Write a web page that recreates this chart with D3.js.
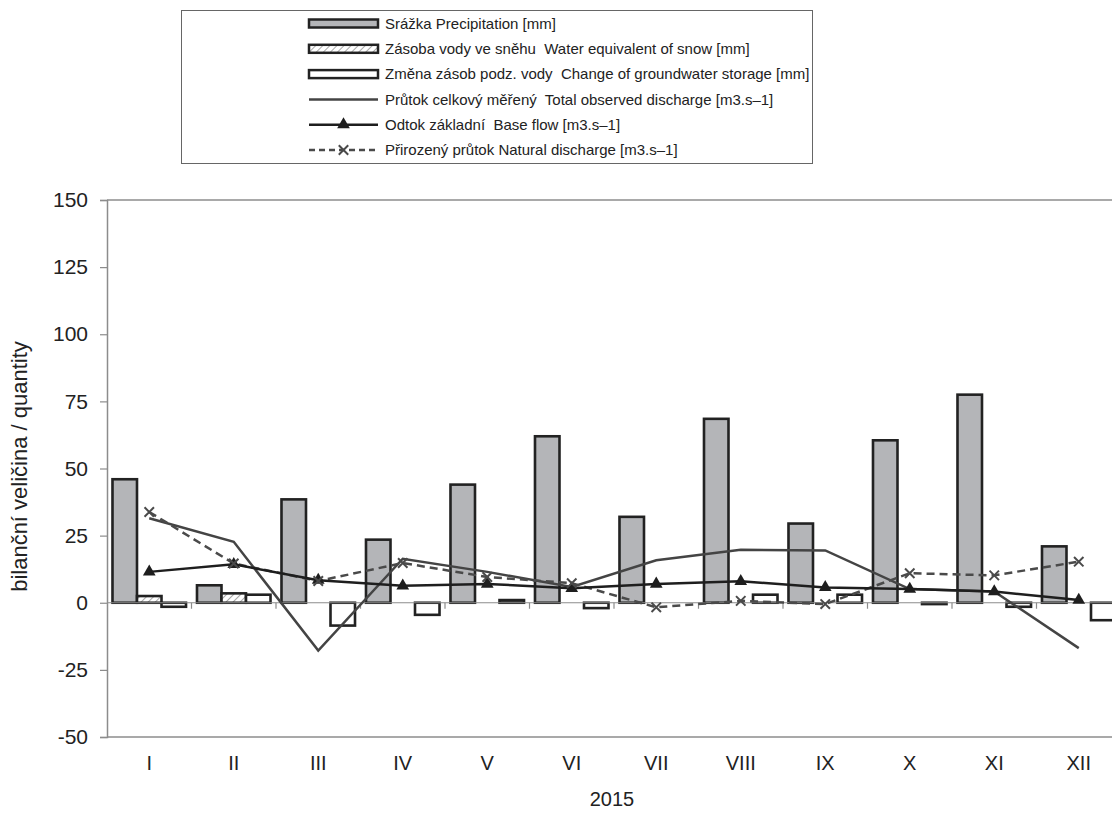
<!DOCTYPE html>
<html lang="cs">
<head>
<meta charset="UTF-8">
<title>Bilance 2015</title>
<script src="https://cdn.jsdelivr.net/npm/d3@7"></script>
<style>
  body { margin: 0; background: #fff; }
  svg { display: block; font-family: "Liberation Sans", Arial, sans-serif; }
  .lbl { white-space: pre; }
</style>
</head>
<body>
<div id="chart"></div>
<script>
// data
var months = ["I", "II", "III", "IV", "V", "VI", "VII", "VIII", "IX", "X", "XI", "XII"];
var precipitation = [46, 6.5, 38.5, 23.5, 44, 62, 32, 68.5, 29.5, 60.5, 77.5, 21];
var snowWater = [2.5, 3.5, 0, 0, 0, 0, 0, 0, 0, 0, 0, 0];
var groundwaterChange = [-1.5, 3, -8.5, -4.5, 1, -2, 0, 3, 3, -0.5, -1.5, -6.5];
var totalDischarge = [31.5, 22.7, -17.8, 16.4, 11.5, 5.9, 15.8, 19.7, 19.5, 5.1, 4.2, -16.9];
var baseFlow = [11.5, 14.3, 8.4, 6.3, 7, 5.4, 7, 8, 5.7, 5.1, 4.2, 1];
var naturalDischarge = [33.8, 14.6, 8.1, 14.8, 9.6, 7.3, -1.7, 0.7, -0.5, 11, 10.2, 15.3];
var yTicks = [-50, -25, 0, 25, 50, 75, 100, 125, 150];

var legendLabels = [
  "Srážka Precipitation [mm]",
  "Zásoba vody ve sněhu  Water equivalent of snow [mm]",
  "Změna zásob podz. vody  Change of groundwater storage [mm]",
  "Průtok celkový měřený  Total observed discharge [m3.s\u20131]",
  "Odtok základní  Base flow [m3.s\u20131]",
  "Přirozený průtok Natural discharge [m3.s\u20131]"
];

var width = 1112, height = 814;
var marginLeft = 107, marginTop = 200, plotW = 1014, plotH = 537;

var svg = d3.select("#chart").append("svg")
    .attr("width", width)
    .attr("height", height);

var defs = svg.append("defs");
var hatch = defs.append("pattern")
    .attr("id", "hatch")
    .attr("patternUnits", "userSpaceOnUse")
    .attr("width", 5).attr("height", 5)
    .attr("patternTransform", "rotate(45)");
hatch.append("rect").attr("width", 5).attr("height", 5).attr("fill", "#fff");
hatch.append("line")
    .attr("x1", 0).attr("y1", 0).attr("x2", 0).attr("y2", 5)
    .attr("stroke", "#a8a8a8").attr("stroke-width", 2);

var x0 = d3.scaleBand().domain(months).range([marginLeft, marginLeft + plotW]).paddingInner(0).paddingOuter(0);
var x1 = d3.scaleBand().domain([0, 1, 2]).range([0, x0.bandwidth()]).paddingInner(0).paddingOuter(0.224);
var y = d3.scaleLinear().domain([-50, 150]).range([marginTop + plotH, marginTop]);

// plot area borders (top / bottom)
svg.append("line").attr("x1", marginLeft).attr("x2", marginLeft + plotW)
    .attr("y1", y(150)).attr("y2", y(150)).attr("stroke", "#8c8c8c").attr("stroke-width", 1.5);
svg.append("line").attr("x1", marginLeft).attr("x2", marginLeft + plotW)
    .attr("y1", y(-50)).attr("y2", y(-50)).attr("stroke", "#8c8c8c").attr("stroke-width", 1.5);

// y axis
var yAxis = svg.append("g")
    .attr("transform", "translate(" + marginLeft + ",0)")
    .call(d3.axisLeft(y).tickValues(yTicks).tickSize(7).tickPadding(12)
        .tickFormat(function(d) { return String(d); }));
yAxis.select(".domain").attr("stroke", "#8c8c8c").attr("stroke-width", 1.5);
yAxis.selectAll(".tick line").attr("stroke", "#8c8c8c").attr("stroke-width", 1.2);
yAxis.selectAll("text").attr("font-size", 21).attr("fill", "#222")
    .attr("font-family", "Liberation Sans, Arial, sans-serif");

// bars
var barSeries = [
  { values: precipitation, fill: "#b4b5b8" },
  { values: snowWater, fill: "url(#hatch)" },
  { values: groundwaterChange, fill: "#fff" }
];
barSeries.forEach(function(s, k) {
  var pts = s.values.map(function(v, i) { return { m: months[i], v: v }; })
      .filter(function(d) { return d.v !== 0; });
  svg.append("g").selectAll("rect")
    .data(pts)
    .enter().append("rect")
    .attr("x", function(d) { return x0(d.m) + x1(k); })
    .attr("width", x1.bandwidth())
    .attr("y", function(d) { return d.v > 0 ? y(d.v) : y(0); })
    .attr("height", function(d) { return Math.abs(y(d.v) - y(0)); })
    .attr("fill", s.fill)
    .attr("stroke", "#222")
    .attr("stroke-width", 2.6);
});

// zero axis with category ticks
var xAxis = svg.append("g")
    .attr("transform", "translate(0," + y(0) + ")");
xAxis.append("line").attr("x1", marginLeft).attr("x2", marginLeft + plotW)
    .attr("stroke", "#8c8c8c").attr("stroke-width", 1.2);
xAxis.selectAll(".cat-tick")
    .data(months.slice(1))
    .enter().append("line")
    .attr("x1", function(d) { return x0(d); })
    .attr("x2", function(d) { return x0(d); })
    .attr("y1", 0).attr("y2", 6)
    .attr("stroke", "#8c8c8c").attr("stroke-width", 1.2);

// month labels
svg.append("g").selectAll("text")
    .data(months)
    .enter().append("text")
    .attr("x", function(d) { return x0(d) + x0.bandwidth() / 2; })
    .attr("y", 770)
    .attr("text-anchor", "middle")
    .attr("font-size", 20)
    .attr("fill", "#222")
    .text(function(d) { return d; });

svg.append("text")
    .attr("x", 612).attr("y", 806)
    .attr("text-anchor", "middle")
    .attr("font-size", 20).attr("fill", "#222")
    .text("2015");

svg.append("text")
    .attr("transform", "translate(27," + (marginTop + plotH / 2 - 2) + ") rotate(-90)")
    .attr("text-anchor", "middle")
    .attr("font-size", 22).attr("fill", "#222")
    .text("bilanční veličina / quantity");

// lines
var cx = function(d, i) { return x0(months[i]) + x0.bandwidth() / 2; };
var line = d3.line().x(cx).y(function(d) { return y(d); });

svg.append("path").datum(totalDischarge)
    .attr("fill", "none").attr("stroke", "#444").attr("stroke-width", 2.5)
    .attr("d", line);

svg.append("path").datum(naturalDischarge)
    .attr("fill", "none").attr("stroke", "#4a4a4a").attr("stroke-width", 2.5)
    .attr("stroke-dasharray", "8,5")
    .attr("d", line);

svg.append("path").datum(baseFlow)
    .attr("fill", "none").attr("stroke", "#1e1e1e").attr("stroke-width", 2.5)
    .attr("d", line);

var tri = d3.symbol().type(d3.symbolTriangle).size(70);
svg.append("g").selectAll("path")
    .data(baseFlow)
    .enter().append("path")
    .attr("transform", function(d, i) { return "translate(" + cx(d, i) + "," + y(d) + ")"; })
    .attr("d", tri)
    .attr("fill", "#1e1e1e");

var cross = d3.symbol().type(d3.symbolX).size(60);
svg.append("g").selectAll("path")
    .data(naturalDischarge)
    .enter().append("path")
    .attr("transform", function(d, i) { return "translate(" + cx(d, i) + "," + y(d) + ")"; })
    .attr("d", cross)
    .attr("fill", "none")
    .attr("stroke", "#4a4a4a").attr("stroke-width", 2);

// legend
var legend = svg.append("g");
legend.append("rect")
    .attr("x", 181.5).attr("y", 10.5).attr("width", 631).attr("height", 153)
    .attr("fill", "#fff").attr("stroke", "#666").attr("stroke-width", 1);

var lx0 = 309, lx1 = 378, rowY = function(i) { return 23.5 + i * 25.3; };
var symFills = ["#b4b5b8", "url(#hatch)", "#fff"];
symFills.forEach(function(f, i) {
  legend.append("rect")
    .attr("x", lx0).attr("y", rowY(i) - 4).attr("width", lx1 - lx0).attr("height", 8)
    .attr("fill", f).attr("stroke", "#222").attr("stroke-width", 2.5);
});
legend.append("line").attr("x1", lx0).attr("x2", lx1).attr("y1", rowY(3)).attr("y2", rowY(3))
    .attr("stroke", "#444").attr("stroke-width", 2.5);
legend.append("line").attr("x1", lx0).attr("x2", lx1).attr("y1", rowY(4)).attr("y2", rowY(4))
    .attr("stroke", "#1e1e1e").attr("stroke-width", 2.5);
legend.append("path")
    .attr("transform", "translate(" + (lx0 + lx1) / 2 + "," + rowY(4) + ")")
    .attr("d", tri).attr("fill", "#1e1e1e");
legend.append("line").attr("x1", lx0).attr("x2", lx1).attr("y1", rowY(5)).attr("y2", rowY(5))
    .attr("stroke", "#4a4a4a").attr("stroke-width", 2.5).attr("stroke-dasharray", "6,4");
legend.append("path")
    .attr("transform", "translate(" + (lx0 + lx1) / 2 + "," + rowY(5) + ")")
    .attr("d", cross).attr("fill", "none").attr("stroke", "#4a4a4a").attr("stroke-width", 2);

legend.selectAll(".lbl")
    .data(legendLabels)
    .enter().append("text")
    .attr("class", "lbl")
    .attr("x", 385)
    .attr("y", function(d, i) { return rowY(i); })
    .attr("dy", "0.35em")
    .attr("font-size", 15)
    .attr("fill", "#222")
    .text(function(d) { return d; });
</script>
</body>
</html>
